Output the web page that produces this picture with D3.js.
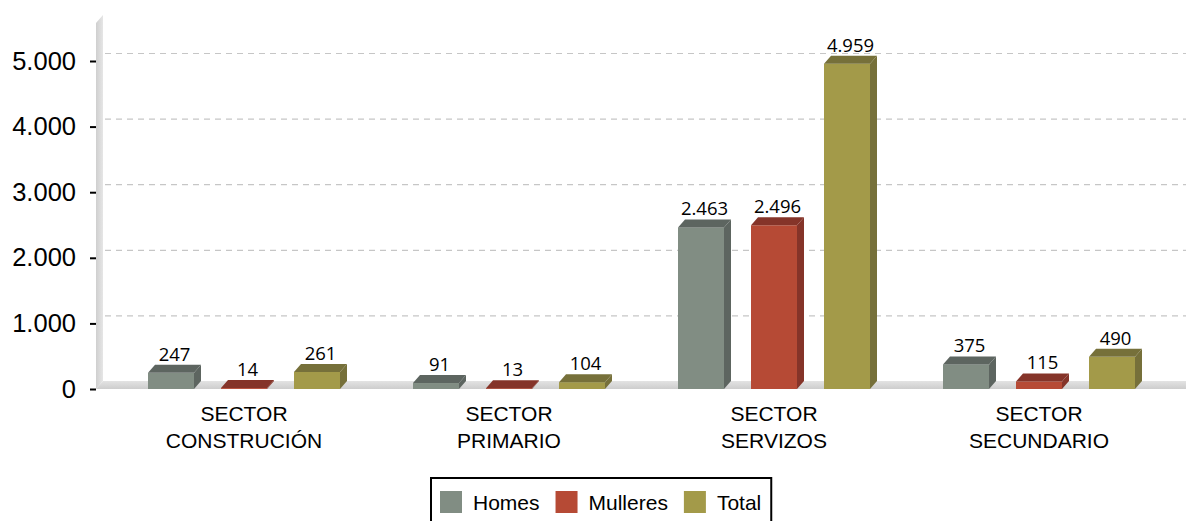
<!DOCTYPE html>
<html>
<head>
<meta charset="utf-8">
<script src="https://cdn.jsdelivr.net/npm/d3@7"></script>
<style>
  html, body { margin: 0; padding: 0; background: #fff; }
  svg { display: block; }
</style>
</head>
<body>
<svg id="chart" width="1186" height="521"></svg>
<script>
const categories = [["SECTOR", "CONSTRUCIÓN"], ["SECTOR", "PRIMARIO"], ["SECTOR", "SERVIZOS"], ["SECTOR", "SECUNDARIO"]];
const seriesNames = ["Homes", "Mulleres", "Total"];
const homes = [247, 91, 2463, 375];
const mulleres = [14, 13, 2496, 115];
const total = [261, 104, 4959, 490];
const yTicks = [0, 1000, 2000, 3000, 4000, 5000];

const seriesValues = [homes, mulleres, total];
const frontColors = ["#818d83", "#b64a35", "#a39a49"];
const darkColors = ["#5d6560", "#853429", "#76703a"];

const fmt = v => d3.format(",")(v).replace(/,/g, ".");

const W = 1186, H = 521;
const svg = d3.select("#chart");
const dx = 7, dy = 8;

const y = d3.scaleLinear().domain([0, 5000]).range([389, 61]);
const catIdx = categories.map((c, i) => i);
const x0 = d3.scaleBand().domain(catIdx).range([111.5, 1171.5]).padding(0);
const x1 = d3.scaleBand().domain(seriesNames).range([36.5, 228.5]).paddingInner(27 / 73).paddingOuter(0);

const defs = svg.append("defs");
const wallGrad = defs.append("linearGradient").attr("id", "wallG").attr("x1", 0).attr("x2", 1).attr("y1", 0).attr("y2", 0);
wallGrad.append("stop").attr("offset", "0%").attr("stop-color", "#cfcfcf");
wallGrad.append("stop").attr("offset", "100%").attr("stop-color", "#e6e6e6");
const floorGrad = defs.append("linearGradient").attr("id", "floorG").attr("x1", 0).attr("x2", 0).attr("y1", 0).attr("y2", 1);
floorGrad.append("stop").attr("offset", "0%").attr("stop-color", "#e3e3e3");
floorGrad.append("stop").attr("offset", "100%").attr("stop-color", "#cdcdcd");

const x0px = 96;
// left wall
svg.append("path")
  .attr("d", `M${x0px},${y(5000) - 38} L${x0px + dx},${y(5000) - 38 - dy} L${x0px + dx},${y(0) - dy} L${x0px},${y(0)} Z`)
  .attr("fill", "url(#wallG)");
// floor
svg.append("path")
  .attr("d", `M${x0px},${y(0)} L${x0px + dx},${y(0) - dy} L${W},${y(0) - dy} L${W},${y(0)} Z`)
  .attr("fill", "url(#floorG)");

// gridlines on back wall
svg.append("g").selectAll("line").data(yTicks.filter(t => t > 0)).join("line")
  .attr("x1", x0px + dx + 2).attr("x2", W)
  .attr("y1", d => y(d) - dy + 0.5).attr("y2", d => y(d) - dy + 0.5)
  .attr("stroke", "#c6c6c6").attr("stroke-width", 1.2).attr("stroke-dasharray", "6,5");

// y axis ticks & labels
const yAxis = d3.axisLeft(y).tickValues(yTicks).tickFormat(fmt).tickSize(6).tickPadding(14);
const yg = svg.append("g").attr("transform", `translate(${x0px},0)`).call(yAxis);
yg.select(".domain").remove();
yg.selectAll(".tick line").attr("stroke", "#000").attr("stroke-width", 2);
yg.selectAll(".tick text").attr("font-family", "'Liberation Sans', Arial, sans-serif").attr("font-size", 25.5).attr("fill", "#000");

// bars
const groups = svg.append("g").selectAll("g").data(catIdx).join("g")
  .attr("transform", i => `translate(${x0(i)},0)`);

groups.each(function (ci) {
  const g = d3.select(this);
  seriesNames.forEach((s, si) => {
    const v = seriesValues[si][ci];
    const bx = x1(s), bw = x1.bandwidth();
    const yt = y(v), yb = y(0);
    // side
    g.append("path")
      .attr("d", `M${bx + bw},${yt} L${bx + bw + dx},${yt - dy} L${bx + bw + dx},${yb - dy} L${bx + bw},${yb} Z`)
      .attr("fill", darkColors[si]);
    // front
    g.append("rect").attr("x", bx).attr("y", yt).attr("width", bw).attr("height", yb - yt)
      .attr("fill", frontColors[si]);
    // top
    g.append("path")
      .attr("d", `M${bx},${yt} L${bx + bw},${yt} L${bx + bw + dx},${yt - dy} L${bx + dx},${yt - dy} Z`)
      .attr("fill", darkColors[si]);
    // label
    g.append("text")
      .attr("x", bx + bw / 2 + dx / 2)
      .attr("y", yt - dy - 4)
      .attr("text-anchor", "middle")
      .attr("font-family", "'Open Sans', sans-serif")
      .attr("font-size", 18.5)
      .attr("fill", "#000")
      .text(fmt(v));
  });
});

// category labels
const catG = svg.append("g").selectAll("text").data(catIdx).join("text")
  .attr("x", i => x0(i) + x0.bandwidth() / 2)
  .attr("y", 421)
  .attr("text-anchor", "middle")
  .attr("font-family", "'Liberation Sans', Arial, sans-serif")
  .attr("font-size", 21)
  .attr("fill", "#000");
catG.each(function (i) {
  const t = d3.select(this);
  categories[i].forEach((line, li) => {
    t.append("tspan").attr("x", x0(i) + x0.bandwidth() / 2).attr("dy", li === 0 ? 0 : 27).text(line);
  });
});

// legend
const lg = svg.append("g");
const legBox = lg.append("rect").attr("x", 431).attr("y", 478).attr("width", 342).attr("height", 60)
  .attr("fill", "#fff").attr("stroke", "#000").attr("stroke-width", 2);
let lx = 440;
seriesNames.forEach((s, si) => {
  lg.append("rect").attr("x", lx).attr("y", 491).attr("width", 22).attr("height", 22).attr("fill", frontColors[si]);
  const t = lg.append("text").attr("x", lx + 33).attr("y", 510)
    .attr("font-family", "'Liberation Sans', Arial, sans-serif").attr("font-size", 21).attr("fill", "#000").text(s);
  lx = lx + 33 + t.node().getComputedTextLength() + 16;
});
legBox.attr("width", lx - 16 + 10 - 431);
</script>
</body>
</html>
